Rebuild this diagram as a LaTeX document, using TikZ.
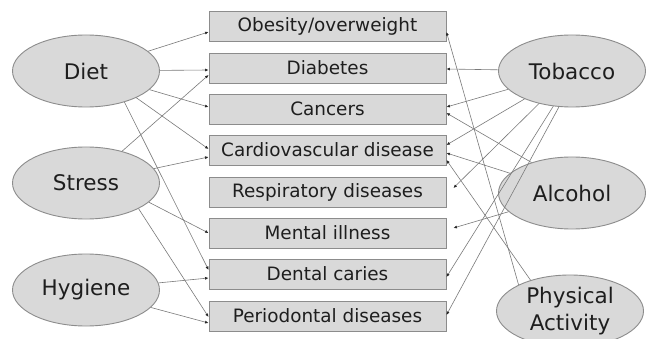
\documentclass[tikz,border=0pt]{standalone}
\usepackage{fontspec}
\setmainfont{DejaVu Sans}
\usetikzlibrary{shapes.geometric,arrows.meta,calc}
\definecolor{boxfill}{HTML}{D9D9D9}
\definecolor{boxdraw}{HTML}{8C8C8C}
\definecolor{txt}{HTML}{1E1E1E}
\definecolor{lin}{HTML}{7A7A7A}
\tikzset{
  disease/.style={draw=boxdraw, fill=boxfill, line width=0.9pt, minimum width=237pt, minimum height=30pt, inner sep=0pt, text=txt, font=\fontsize{18.4}{20}\selectfont},
  factor/.style={ellipse, draw=boxdraw, fill=boxfill, line width=0.9pt, minimum width=147pt, minimum height=72pt, inner sep=0pt, text=txt, font=\fontsize{21.5}{27}\selectfont, align=center},
  link/.style={draw=lin, line width=0.6pt, -{Latex[length=3.5pt,width=3pt,color=black!85]}}
}
\begin{document}
\begin{tikzpicture}[x=1pt,y=-1pt]
\useasboundingbox (0,0) rectangle (647,339);
\fill[white] (0,0) rectangle (647,339);
% diseases
\node[disease] (obes) at (327.5,26) {Obesity/overweight};
\node[disease] (diab) at (327.5,68) {Diabetes};
\node[disease] (canc) at (327.5,109) {Cancers};
\node[disease] (card) at (327.5,150) {Cardiovascular disease};
\node[disease] (resp) at (327.5,192) {Respiratory diseases};
\node[disease] (ment) at (327.5,233) {Mental illness};
\node[disease] (dent) at (327.5,274) {Dental caries};
\node[disease] (peri) at (327.5,316) {Periodontal diseases};
% factors
\node[factor] (diet) at (86,71) {Diet};
\node[factor] (stress) at (86,183) {Stress};
\node[factor] (hyg) at (86,290) {Hygiene};
\node[factor] (tob) at (572,71) {Tobacco};
\node[factor] (alc) at (572,193) {Alcohol};
\node[factor] (pa) at (570,311) {Physical\\Activity};
% left links
\draw[link] (diet) -- ($(obes.west)+(0,6)$);
\draw[link] (diet) -- ($(diab.west)+(0,2)$);
\draw[link] (diet) -- ($(canc.west)+(0,-2)$);
\draw[link] (diet.-28) -- ($(card.west)+(0,-1)$);
\draw[link] (diet.-39) -- ($(dent.west)+(0,-4)$);
\draw[link] (stress) -- ($(diab.west)+(0,7)$);
\draw[link] (stress) -- ($(card.west)+(0,7)$);
\draw[link] (stress.-17) -- ($(ment.west)+(0,0)$);
\draw[link] (stress.-26) -- ($(peri.west)+(0,1)$);
\draw[link] (hyg) -- ($(dent.west)+(0,4)$);
\draw[link] (hyg) -- ($(peri.west)+(0,7)$);
% right links
\draw[link] (tob) -- ($(diab.east)+(0,1)$);
\draw[link] (tob) -- ($(canc.east)+(0,-2)$);
\draw[link] (tob) -- ($(card.east)+(0,-5)$);
\draw[link] (tob) -- ($(resp.east)+(7,-4)$);
\draw[link] (tob.-118) -- ($(dent.east)+(0,3)$);
\draw[link] (tob.-110) -- ($(peri.east)+(0,-1)$);
\draw[link] (alc.143) -- ($(canc.east)+(0,4)$);
\draw[link] (alc) -- ($(card.east)+(0,3)$);
\draw[link] (alc) -- ($(ment.east)+(7,-5)$);
\draw[link] (pa.153) -- ($(obes.east)+(0,6)$);
\draw[link] (pa.142) -- ($(card.east)+(0,10)$);
\end{tikzpicture}
\end{document}
